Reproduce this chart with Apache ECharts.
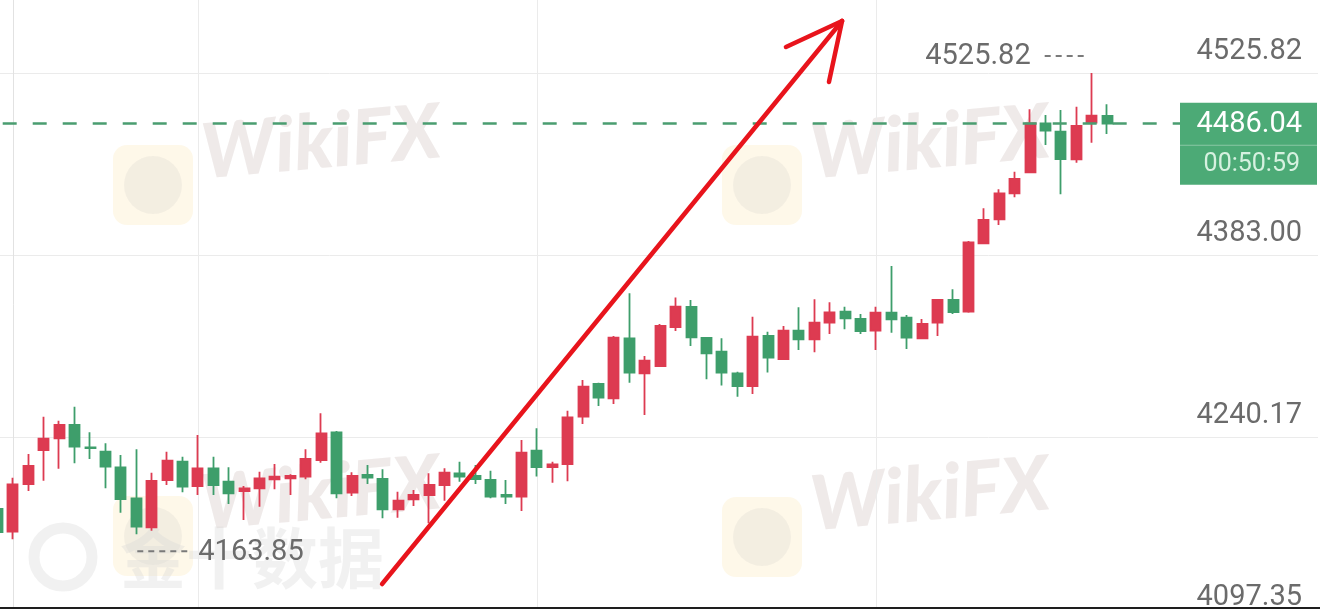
<!DOCTYPE html>
<html><head><meta charset="utf-8">
<script src="https://cdn.jsdelivr.net/npm/echarts@6/dist/echarts.min.js"></script>
<style>html,body{margin:0;padding:0;background:#fff;overflow:hidden}#c{width:1320px;height:609px}</style>
</head><body><div id="c"></div>
<script>
// ---- data (candle slot index of first entry; later entries follow one slot each) ----
const FIRST_INDEX = -1;
const opens = [4183.66,4165.85,4203.29,4229.97,4239.15,4249.59,4232.09,4228.64,4216.39,4192.07,
  4169.31,4206.43,4220.79,4201.72,4215.61,4205.09,4197.79,4199.91,4206.98,4207.76,
  4209.02,4222.12,4243.86,4196.46,4210.35,4207.21,4183.43,4191.28,4194.66,4202.50,
  4211.68,4209.57,4206.43,4194.66,4193.32,4229.42,4216.63,4218.83,4256.10,4281.76,
  4270.54,4317.63,4290.16,4295.89,4326.49,4342.19,4317.86,4307.11,4290.16,4280.19,
  4319.43,4301.38,4323.59,4316.84,4329.87,4338.50,4332.77,4323.59,4337.72,4333.79,
  4317.63,4329.87,4347.68,4338.50,4392.18,4411.01,4431.41,4447.89,4486.35,4479.75,
  4458.10,4486.82,4492.08];
const closes = [4165.62,4203.05,4217.41,4238.84,4249.59,4232.56,4231.54,4216.86,4191.52,4169.78,
  4205.64,4221.57,4201.17,4215.61,4202.50,4195.99,4199.91,4207.76,4209.02,4209.57,
  4222.91,4243.07,4195.99,4209.57,4208.23,4183.43,4190.18,4194.66,4202.50,4212.15,
  4209.02,4207.21,4193.32,4193.32,4227.85,4216.63,4218.59,4255.47,4279.64,4271.01,
  4318.10,4290.63,4300.05,4327.28,4342.42,4318.41,4305.85,4290.63,4280.19,4318.88,
  4302.56,4323.59,4316.84,4329.87,4338.03,4333.32,4323.35,4337.72,4332.54,4318.10,
  4328.85,4347.68,4338.26,4392.96,4410.46,4431.41,4442.64,4486.35,4480.54,4458.33,
  4484.23,4492.31,4486.04];
const lows = [4164.50,4159.89,4197.79,4205.88,4215.29,4219.53,4222.91,4199.91,4180.77,4163.85,
  4166.64,4202.50,4196.77,4194.66,4194.66,4187.59,4175.04,4185.47,4199.13,4194.66,
  4206.98,4220.00,4192.07,4193.87,4203.29,4176.37,4176.84,4186.02,4172.45,4190.18,
  4205.09,4203.29,4192.07,4187.59,4182.10,4209.17,4204.31,4205.48,4250.37,4264.50,
  4266.07,4282.78,4257.44,4295.34,4323.35,4311.58,4285.45,4280.59,4271.80,4273.92,
  4290.79,4300.60,4308.44,4306.64,4321.00,4324.69,4321.00,4308.44,4322.02,4309.23,
  4316.84,4319.43,4336.70,4337.72,4391.63,4406.54,4428.28,4447.34,4469.32,4430.63,
  4455.43,4471.12,4477.95];
const highs = [4186.50,4208.23,4226.83,4256.10,4252.96,4263.95,4243.86,4235.23,4226.05,4230.52,
  4212.15,4228.64,4224.71,4241.74,4224.71,4216.39,4201.72,4212.94,4218.98,4210.90,
  4230.52,4258.77,4244.88,4212.47,4218.20,4214.82,4197.25,4198.58,4211.68,4215.61,
  4220.79,4218.20,4213.72,4206.43,4237.82,4247.00,4220.79,4260.81,4284.90,4282.78,
  4319.43,4352.94,4303.74,4328.85,4349.64,4347.68,4318.41,4317.63,4291.42,4334.58,
  4322.81,4327.28,4341.95,4348.23,4345.88,4342.42,4336.70,4342.42,4374.36,4335.91,
  4332.77,4348.23,4356.08,4393.98,4419.64,4434.55,4448.37,4497.33,4492.86,4496.78,
  4499.37,4525.82,4501.26];
const yTickValues = [4097.35, 4240.17, 4383.00, 4525.82];
const xGridSlots = [12, 34, 56];
const countdownText = '00:50:59';
const lowMarkSlot = 8;          // slot whose low is tagged
// hand-drawn arrow annotation, in data space [slot, price]
const arrowStart = [23.95, 4124.81];
const arrowTip   = [53.80, 4566.63];
const arrowWingA = [50.16, 4546.22];
const arrowWingB = [52.95, 4518.76];

// ---- build ----
const RED = '#dd3b51', GREEN = '#3e9e6b';
const X_MIN = -0.8436, X_MAX = 84.686;
const candleData = opens.map((o, k) => [k + FIRST_INDEX, o, closes[k], lows[k], highs[k]]);
const lastPrice = closes[closes.length - 1];

const chart = echarts.init(document.getElementById('c'));
const baseOption = {
  animation: false,
  backgroundColor: '#ffffff',
  grid: { left: 0, right: 2, top: 0, bottom: -10, containLabel: false, outerBoundsMode: 'none' },
  xAxis: {
    type: 'value', min: X_MIN, max: X_MAX,
    axisLine: { show: false }, axisLabel: { show: false },
    axisTick: { show: false, customValues: xGridSlots },
    splitLine: { show: true, lineStyle: { color: '#ebebeb', width: 1 } }
  },
  yAxis: {
    type: 'value', position: 'right', min: 4097.35, max: 4583.11,
    axisLine: { show: true, lineStyle: { color: '#e2e2e2', width: 1 } },
    axisTick: { show: false, customValues: yTickValues },
    axisLabel: {
      inside: true, customValues: yTickValues, margin: 16,
      formatter: v => Number(v).toFixed(2),
      color: '#6b6b6b', fontSize: 29, fontFamily: 'Roboto',
      verticalAlign: 'bottom', lineHeight: 30, padding: [0, 0, 6, 0]
    },
    splitLine: { show: true, lineStyle: { color: '#ebebeb', width: 1 } }
  },
  series: [{
    type: 'candlestick',
    data: candleData,
    barWidth: 10.5,
    clip: true,
    itemStyle: { color: RED, color0: GREEN, borderColor: RED, borderColor0: GREEN, borderWidth: 1.8 }
  }]
};
chart.setOption(baseOption);

// price tag left edge (px) -> slot, so the dashed price line stops at the tag
const TAG_LEFT = 1180;
const tagSlot = chart.convertFromPixel({ gridIndex: 0 }, [TAG_LEFT, 0])[0];

chart.setOption({
  series: [{
    markLine: {
      silent: true, symbol: ['none', 'none'], label: { show: false },
      lineStyle: { color: '#e8141c', width: 4.5, type: 'solid', cap: 'round' },
      emphasis: { disabled: true },
      data: [
        [{ coord: [X_MIN, lastPrice], lineStyle: { color: '#4a9d70', width: 2.6, type: [14, 16], dashOffset: 27.3, cap: 'butt' } },
         { coord: [tagSlot, lastPrice] }],
        [{ coord: arrowStart }, { coord: arrowTip }],
        [{ coord: arrowWingA }, { coord: arrowTip }],
        [{ coord: arrowWingB }, { coord: arrowTip }]
      ]
    }
  }]
});

// ---- overlays ----
function wikiMark(lx, ly) {
  return [
    { type: 'rect', z: -5, shape: { x: lx, y: ly, width: 80, height: 80, r: 14 },
      style: { fill: 'rgba(252,236,196,0.38)' } },
    { type: 'circle', z: -4, shape: { cx: lx + 40, cy: ly + 40, r: 29 },
      style: { fill: 'rgba(190,190,190,0.17)' } },
    { type: 'text', z: -4, x: lx + 92, y: ly + 47, rotation: 0.09,
      style: { text: 'WikiFX', fill: 'rgba(215,203,200,0.4)', font: 'italic 900 76px Lato',
        align: 'left', verticalAlign: 'bottom' } }
  ];
}
const pxPrice = chart.convertToPixel({ gridIndex: 0 }, [0, lastPrice]);
let hiIdx = 0;
highs.forEach((h, k) => { if (h > highs[hiIdx]) hiIdx = k; });
const pxHigh = chart.convertToPixel({ gridIndex: 0 }, [hiIdx + FIRST_INDEX, highs[hiIdx]]);
const loIdx = lowMarkSlot - FIRST_INDEX;
const pxLow = chart.convertToPixel({ gridIndex: 0 }, [lowMarkSlot, lows[loIdx]]);

const graphics = [].concat(
  wikiMark(113, 145), wikiMark(722, 145), wikiMark(113, 496), wikiMark(722, 497),
  [
    { type: 'circle', z: -4, shape: { cx: 63, cy: 557, r: 29 },
      style: { fill: 'none', stroke: 'rgba(215,215,215,0.35)', lineWidth: 11 } },
    { type: 'text', z: -4, x: 120, y: 558,
      style: { text: '金十数据', fill: 'rgba(215,215,215,0.35)', font: 'bold 66px "Noto Sans CJK SC"',
        align: 'left', verticalAlign: 'middle' } },
    // price tag
    { type: 'group', zlevel: 1, z: 100, x: TAG_LEFT, y: pxPrice[1] - 21, children: [
      { type: 'rect', zlevel: 1, shape: { x: 0, y: 0, width: 137, height: 82 }, style: { fill: '#4caa76' } },
      { type: 'rect', zlevel: 1, shape: { x: 0, y: 42, width: 137, height: 1 }, style: { fill: 'rgba(255,255,255,0.35)' } },
      { type: 'text', zlevel: 1, x: 122, y: 22, style: { text: lastPrice.toFixed(2), fill: '#ffffff',
        font: '29px Roboto', align: 'right', verticalAlign: 'middle' } },
      { type: 'text', zlevel: 1, x: 120, y: 62, style: { text: countdownText, fill: '#d6f1e0',
        font: '25px Roboto', align: 'right', verticalAlign: 'middle' } }
    ] },
    // high tag
    { type: 'text', z: 100, x: pxHigh[0] - 61, y: pxHigh[1] - 16,
      style: { text: highs[hiIdx].toFixed(2), fill: '#6b6b6b', font: '29px Roboto',
        align: 'right', verticalAlign: 'middle' } },
    { type: 'line', z: 100, shape: { x1: pxHigh[0] - 47, y1: pxHigh[1] - 17, x2: pxHigh[0] - 5, y2: pxHigh[1] - 17 },
      style: { stroke: '#7a7a7a', lineWidth: 2.2, lineDash: [6, 5] } },
    // low tag
    { type: 'line', z: 100, shape: { x1: pxLow[0] + 1, y1: pxLow[1] + 17, x2: pxLow[0] + 56, y2: pxLow[1] + 17 },
      style: { stroke: '#7a7a7a', lineWidth: 2.2, lineDash: [6, 5] } },
    { type: 'text', z: 100, x: pxLow[0] + 62, y: pxLow[1] + 18,
      style: { text: lows[loIdx].toFixed(2), fill: '#6b6b6b', font: '29px Roboto',
        align: 'left', verticalAlign: 'middle' } },
    // bottom edge bar
    { type: 'rect', zlevel: 1, z: 100, shape: { x: 0, y: 607, width: 1320, height: 2 }, style: { fill: '#1e1e1e' } }
  ]
);
chart.setOption({ graphic: graphics });
</script></body></html>
